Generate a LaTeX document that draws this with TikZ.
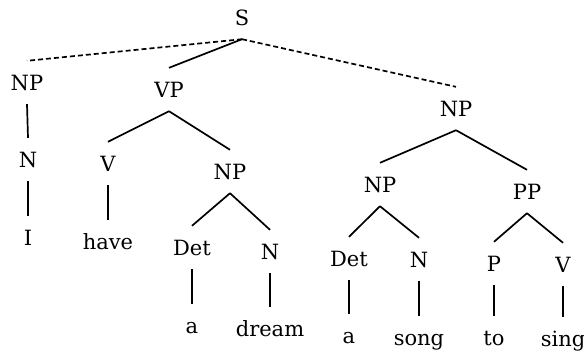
\documentclass[tikz,border=0pt]{standalone}
\usepackage{fontspec}
\setmainfont{DejaVu Serif}
\usepackage{tikz}

\begin{document}
\begin{tikzpicture}[x=1pt, y=-1pt,
        cat/.style = {inner sep=0pt, text height=29pt, text depth=14pt, anchor=base, font=\fontsize{21}{25}\selectfont},
        branch/.style = {line width=1.7pt},
        link/.style = {line width=1.7pt, dash pattern=on 5pt off 3pt}
    ]
        \useasboundingbox (0,0) rectangle (584,360);
        \node[cat] (s) at (242,25) {S};
        \node[cat] (np1) at (27,90) {NP};
        \node[cat] (vp) at (169,97) {VP};
        \node[cat] (np3) at (456,116) {NP};
        \node[cat] (n1) at (28,167) {N};
        \node[cat] (v1) at (108,171) {V};
        \node[cat] (np2) at (230,179) {NP};
        \node[cat] (i) at (28,245) {I};
        \node[cat] (have) at (108,249) {have};
        \node[cat] (det1) at (192,255) {Det};
        \node[cat] (n2) at (270,259) {N};
        \node[cat] (a1) at (192,333) {a};
        \node[cat] (dream) at (270,336) {dream};
        \node[cat] (np4) at (380,192) {NP};
        \node[cat] (pp) at (527,199) {PP};
        \node[cat] (det2) at (349,266) {Det};
        \node[cat] (n3) at (419,267) {N};
        \node[cat] (p) at (494,271) {P};
        \node[cat] (v2) at (563,272) {V};
        \node[cat] (a2) at (349,343) {a};
        \node[cat] (song) at (419,345) {song};
        \node[cat] (to) at (494,345) {to};
        \node[cat] (sing) at (563,346) {sing};
        % top level
        \draw[link] (s.south) -- (np1.north);
        \draw[branch] (s.south) -- (vp.north);
        \draw[link] (s.south) -- (np3.north);
        % subject
        \draw[branch] (np1.south) -- (n1.north);
        \draw[branch] (n1.south) -- (i.north);
        % verb phrase
        \draw[branch] (vp.south) -- (v1.north);
        \draw[branch] (vp.south) -- (np2.north);
        \draw[branch] (v1.south) -- (have.north);
        \draw[branch] (np2.south) -- (det1.north);
        \draw[branch] (np2.south) -- (n2.north);
        \draw[branch] (det1.south) -- (a1.north);
        \draw[branch] (n2.south) -- (dream.north);
        % right noun phrase
        \draw[branch] (np3.south) -- (np4.north);
        \draw[branch] (np3.south) -- (pp.north);
        \draw[branch] (np4.south) -- (det2.north);
        \draw[branch] (np4.south) -- (n3.north);
        \draw[branch] (pp.south) -- (p.north);
        \draw[branch] (pp.south) -- (v2.north);
        \draw[branch] (det2.south) -- (a2.north);
        \draw[branch] (n3.south) -- (song.north);
        \draw[branch] (p.south) -- (to.north);
        \draw[branch] (v2.south) -- (sing.north);
    \end{tikzpicture}
\end{document}
